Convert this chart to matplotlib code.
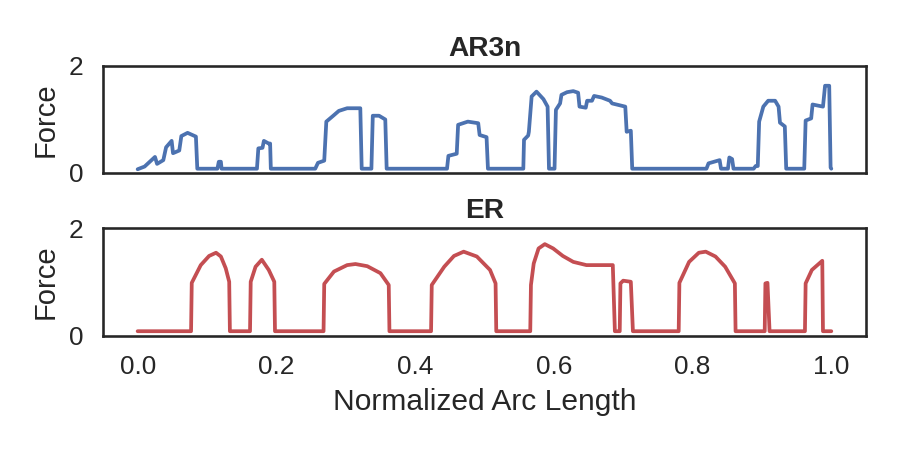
import matplotlib
matplotlib.use("Agg")
import matplotlib.pyplot as plt
import seaborn as sns

# --------- data ---------

ar3n_x = [0.000, 0.010, 0.025, 0.028, 0.037, 0.041, 0.049, 0.051, 0.060, 0.063,
          0.072, 0.084, 0.086, 0.115, 0.117, 0.120, 0.121, 0.172, 0.174, 0.180,
          0.182, 0.189, 0.191, 0.192, 0.256, 0.260, 0.269, 0.272, 0.282, 0.290,
          0.302, 0.321, 0.323, 0.337, 0.339, 0.348, 0.357, 0.359, 0.446, 0.448,
          0.460, 0.462, 0.476, 0.491, 0.493, 0.503, 0.505, 0.556, 0.557, 0.563,
          0.564, 0.568, 0.575, 0.585, 0.591, 0.593, 0.601, 0.603, 0.609, 0.611,
          0.619, 0.628, 0.635, 0.637, 0.646, 0.648, 0.655, 0.658, 0.669, 0.681,
          0.684, 0.703, 0.705, 0.711, 0.713, 0.820, 0.823, 0.839, 0.841, 0.851,
          0.853, 0.857, 0.859, 0.888, 0.891, 0.894, 0.896, 0.902, 0.909, 0.919,
          0.924, 0.926, 0.933, 0.935, 0.961, 0.963, 0.971, 0.973, 0.988, 0.991,
          0.997, 0.999, 1.000]
ar3n_y = [0.07, 0.12, 0.30, 0.17, 0.24, 0.48, 0.60, 0.37, 0.42, 0.69,
          0.75, 0.68, 0.08, 0.08, 0.21, 0.21, 0.08, 0.08, 0.46, 0.47,
          0.60, 0.55, 0.55, 0.08, 0.08, 0.19, 0.23, 0.96, 1.07, 1.16,
          1.21, 1.21, 0.08, 0.08, 1.07, 1.07, 1.00, 0.08, 0.08, 0.32,
          0.36, 0.90, 0.96, 0.93, 0.71, 0.67, 0.08, 0.08, 0.62, 0.70,
          0.77, 1.43, 1.52, 1.38, 1.24, 0.08, 0.08, 1.18, 1.30, 1.46,
          1.51, 1.53, 1.50, 1.24, 1.22, 1.35, 1.35, 1.44, 1.41, 1.35,
          1.30, 1.24, 0.77, 0.79, 0.08, 0.08, 0.18, 0.24, 0.08, 0.08,
          0.29, 0.26, 0.08, 0.08, 0.13, 0.13, 0.96, 1.24, 1.35, 1.35,
          1.24, 0.94, 0.87, 0.08, 0.08, 0.98, 1.02, 1.28, 1.24, 1.63,
          1.63, 0.10, 0.08]

er_x = [0.000, 0.077, 0.078, 0.091, 0.103, 0.113, 0.120, 0.127, 0.132, 0.133,
        0.162, 0.163, 0.170, 0.179, 0.189, 0.197, 0.198, 0.268, 0.269, 0.283,
        0.302, 0.314, 0.331, 0.350, 0.362, 0.363, 0.423, 0.424, 0.442, 0.456,
        0.470, 0.489, 0.508, 0.516, 0.517, 0.566, 0.567, 0.571, 0.578, 0.587,
        0.599, 0.613, 0.628, 0.647, 0.666, 0.685, 0.688, 0.695, 0.696, 0.700,
        0.711, 0.714, 0.780, 0.781, 0.795, 0.809, 0.819, 0.833, 0.847, 0.861,
        0.862, 0.904, 0.905, 0.908, 0.911, 0.962, 0.963, 0.972, 0.987, 0.988,
        1.000]
er_y = [0.08, 0.08, 0.98, 1.31, 1.48, 1.54, 1.47, 1.25, 1.00, 0.08,
        0.08, 1.00, 1.28, 1.41, 1.22, 1.00, 0.08, 0.08, 0.96, 1.19,
        1.31, 1.33, 1.29, 1.16, 0.94, 0.08, 0.08, 0.94, 1.28, 1.48,
        1.56, 1.47, 1.22, 0.97, 0.08, 0.08, 0.94, 1.34, 1.62, 1.70,
        1.62, 1.48, 1.37, 1.31, 1.31, 1.31, 0.08, 0.08, 0.97, 1.02,
        1.00, 0.08, 0.08, 0.98, 1.37, 1.54, 1.56, 1.47, 1.28, 0.97,
        0.08, 0.08, 0.97, 0.98, 0.08, 0.08, 0.97, 1.22, 1.39, 0.08,
        0.08]

x_ticks = [0.0, 0.2, 0.4, 0.6, 0.8, 1.0]
y_ticks = [0, 2]

# --------- plot ---------

sns.set_theme(style="white")
plt.rcParams["font.family"] = ["Liberation Sans", "DejaVu Sans"]

fig = plt.figure(figsize=(6, 3), dpi=150)
ax1 = fig.add_axes([0.1144, 0.6156, 0.8478, 0.2378])
ax2 = fig.add_axes([0.1144, 0.2544, 0.8478, 0.2389], sharex=ax1)

ax1.plot(ar3n_x, ar3n_y, color="#4C72B0", linewidth=1.8)
ax2.plot(er_x, er_y, color="#C44E52", linewidth=1.8)

for ax, title in [(ax1, "AR3n"), (ax2, "ER")]:
    ax.set_title(title, fontsize=13.5, fontweight="bold", pad=5)
    ax.set_ylabel("Force", fontsize=14)
    ax.set_ylim(0, 2)
    ax.set_yticks(y_ticks)
    ax.tick_params(labelsize=12.6)

ax1.tick_params(labelbottom=False)
ax2.set_xticks(x_ticks)
ax2.set_xlabel("Normalized Arc Length", fontsize=14.4)

fig.savefig("out.png", dpi=150)
